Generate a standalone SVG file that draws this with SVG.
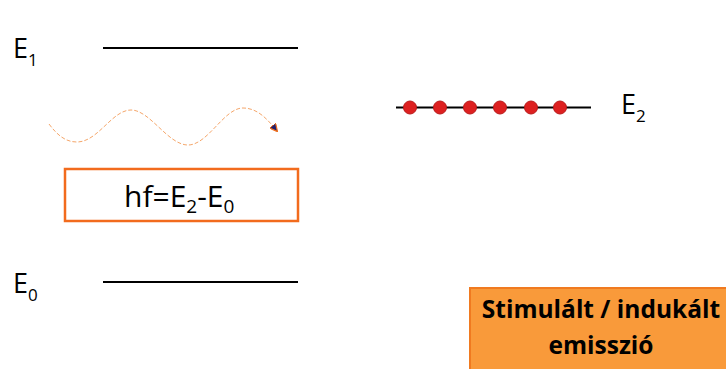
<svg xmlns="http://www.w3.org/2000/svg" width="726" height="369" viewBox="0 0 726 369">
<style>
.lbl{font-family:"Open Sans","Noto Sans","Liberation Sans",sans-serif;fill:#000}
.lvl{stroke:#000;stroke-width:2}
.dot{fill:#DD2020;stroke:#B81818;stroke-width:1}
</style>
<defs>
<marker id="ah" viewBox="0 0 10 10" refX="9" refY="5" markerWidth="8" markerHeight="8" markerUnits="userSpaceOnUse" orient="auto">
<path d="M0,0 L10,5 L0,10 Z" fill="#1F1F6E" stroke="#F07020" stroke-width="1.5"/>
</marker>
</defs>
<rect width="726" height="369" fill="#fff"/>
<g id="level-E1">
<line class="lvl" x1="103" y1="48" x2="298" y2="48"/>
<text class="lbl" x="13" y="58" font-size="27">E<tspan font-size="17" dy="8">1</tspan></text>
</g>
<g id="level-E0">
<line class="lvl" x1="103" y1="282" x2="298" y2="282"/>
<text class="lbl" x="13" y="293" font-size="27">E<tspan font-size="17" dy="8">0</tspan></text>
</g>
<g id="level-E2">
<line class="lvl" x1="396" y1="107.5" x2="591" y2="107.5" stroke-width="2"/>
<circle class="dot" cx="410" cy="107.5" r="6.5"/>
<circle class="dot" cx="440" cy="107.5" r="6.5"/>
<circle class="dot" cx="470" cy="107.5" r="6.5"/>
<circle class="dot" cx="500" cy="107.5" r="6.5"/>
<circle class="dot" cx="531" cy="107.5" r="6.5"/>
<circle class="dot" cx="560" cy="107.5" r="6.5"/>
<text class="lbl" x="621" y="114" font-size="27">E<tspan font-size="17" dy="8">2</tspan></text>
</g>
<g id="connectors">
<path id="photon" d="M49,124 C58,136 66,142 77,142 C98,142 112,110 131,110 C150,110 168,145 188,145 C208,145 224,108 243,108 C258,108 268,120 277,131" fill="none" stroke="#F5A66A" stroke-width="1" stroke-dasharray="4 2" marker-end="url(#ah)"/>
</g>
<g id="formula">
<rect x="65" y="169" width="233" height="52" fill="#fff" stroke="#F26B1D" stroke-width="2.5"/>
<text class="lbl" x="124" y="207" font-size="30">hf=E<tspan font-size="19" dy="6">2</tspan><tspan dy="-6">-E</tspan><tspan font-size="19" dy="6">0</tspan></text>
</g>
<g id="title">
<rect x="470" y="288" width="270" height="100" fill="#F99A3A" stroke="#F07A20" stroke-width="2"/>
<text class="lbl" x="601" y="318" font-size="24.5" font-weight="bold" text-anchor="middle">Stimulált / indukált</text>
<text class="lbl" x="601" y="354" font-size="24.5" font-weight="bold" text-anchor="middle">emisszió</text>
</g>
</svg>
